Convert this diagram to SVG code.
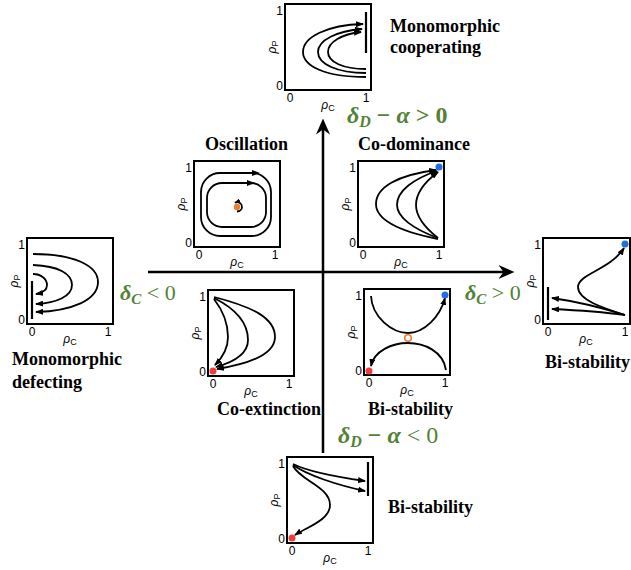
<svg xmlns="http://www.w3.org/2000/svg" width="631" height="570" viewBox="0 0 631 570">
<defs>
<style>
.box{fill:#fff;stroke:#000;stroke-width:2}
.tr{fill:none;stroke:#000;stroke-width:1.8}
.ar{marker-end:url(#ah)}
.vl{stroke:#000;stroke-width:2.2}
.tk{font-family:"Liberation Sans",Arial,sans-serif;font-size:12px;fill:#000}
.ti{font-family:"Liberation Serif","Times New Roman",serif;font-weight:bold;font-size:18px;fill:#000}
.cond{font-family:"Liberation Serif","Times New Roman",serif;font-weight:bold;font-size:22px;fill:#548235}
.big{font-size:24px}
.axis{stroke:#000;stroke-width:2.5;fill:none;marker-end:url(#big)}
.blue{fill:#1f6fe0}
.red{fill:#f03c3c}
.org{fill:#ed7d31}
</style>
<marker id="ah" viewBox="0 0 8 6" refX="7" refY="3" markerWidth="8" markerHeight="6" orient="auto" markerUnits="userSpaceOnUse"><path d="M0,0 L8,3 L0,6 Z" fill="#000"/></marker>
<marker id="ahs" viewBox="0 0 8 6" refX="7" refY="3" markerWidth="6" markerHeight="4.5" orient="auto" markerUnits="userSpaceOnUse"><path d="M0,0 L8,3 L0,6 Z" fill="#000"/></marker>
<marker id="big" viewBox="0 0 16 14" refX="5.5" refY="7" markerWidth="16" markerHeight="14" orient="auto" markerUnits="userSpaceOnUse"><path d="M0,0 L16,7 L0,14 L5,7 Z" fill="#000"/></marker>
</defs>
<rect width="631" height="570" fill="#fff"/>

<g id="connectors">
<line class="axis" x1="148" y1="272" x2="504" y2="272"/>
<line class="axis" x1="323" y1="453" x2="323" y2="129"/>
<text class="cond big" x="347" y="123"><tspan font-style="italic">δ</tspan><tspan font-style="italic" font-size="16" dy="4">D</tspan><tspan dy="-4"> − </tspan><tspan font-style="italic">α</tspan><tspan> &gt; 0</tspan></text>
<text class="cond big" x="338" y="443"><tspan font-style="italic">δ</tspan><tspan font-style="italic" font-size="16" dy="4">D</tspan><tspan dy="-4"> − </tspan><tspan font-style="italic">α</tspan><tspan font-weight="normal"> &lt; 0</tspan></text>
<text class="cond" x="120" y="300"><tspan font-style="italic">δ</tspan><tspan font-style="italic" font-size="15" dy="4">C</tspan><tspan dy="-4" font-weight="normal"> &lt; 0</tspan></text>
<text class="cond" x="465" y="300"><tspan font-style="italic">δ</tspan><tspan font-style="italic" font-size="15" dy="4">C</tspan><tspan dy="-4" font-weight="normal"> &gt; 0</tspan></text>
</g>

<g id="monomorphic-cooperating" transform="translate(285,4)">
<rect class="box" x="0" y="0" width="86" height="86"/>
<text class="tk" x="5" y="98" text-anchor="middle">0</text>
<text class="tk" x="81" y="98" text-anchor="middle">1</text>
<text class="tk" x="-2" y="11" text-anchor="end">1</text>
<text class="tk" x="-2" y="86" text-anchor="end">0</text>
<text class="tk" x="43" y="105" text-anchor="middle"><tspan font-style="italic">ρ</tspan><tspan font-size="9" dy="2">C</tspan></text>
<text class="tk" transform="translate(-9,43) rotate(-90)" text-anchor="middle"><tspan font-style="italic">ρ</tspan><tspan font-size="9" dy="2">P</tspan></text>
<line class="vl" x1="81" y1="8" x2="81" y2="49"/>
<path class="tr ar" d="M81 73 C40 73,18 62,18 48 C18 33,42 21,78 20"/>
<path class="tr ar" d="M81 69 C52 69,33 60,33 48 C33 36,52 27,77 25"/>
<path class="tr ar" d="M81 65 C58 65,43 58,43 48 C43 38,57 30,76 28"/>
<text class="ti" x="105" y="28">Monomorphic</text>
<text class="ti" x="105" y="49">cooperating</text>
</g>

<g id="oscillation" transform="translate(194,161)">
<rect class="box" x="0" y="0" width="86" height="86"/>
<text class="tk" x="5" y="98" text-anchor="middle">0</text>
<text class="tk" x="81" y="98" text-anchor="middle">1</text>
<text class="tk" x="-2" y="11" text-anchor="end">1</text>
<text class="tk" x="-2" y="86" text-anchor="end">0</text>
<text class="tk" x="43" y="105" text-anchor="middle"><tspan font-style="italic">ρ</tspan><tspan font-size="9" dy="2">C</tspan></text>
<text class="tk" transform="translate(-9,43) rotate(-90)" text-anchor="middle"><tspan font-style="italic">ρ</tspan><tspan font-size="9" dy="2">P</tspan></text>
<rect class="tr" x="7" y="12" width="70" height="63" rx="19"/>
<rect class="tr" x="13" y="22" width="59" height="44" rx="15"/>
<path d="M66 12 L58 9 L58 15 Z" fill="#000"/>
<path d="M61 22 L53 19 L53 25 Z" fill="#000"/>
<circle class="org" cx="43" cy="46" r="3.2"/>
<path class="tr" stroke-width="1.6" marker-end="url(#ahs)" d="M43 50.5 A5 4.5 0 0 0 48 46 A5 4.5 0 0 0 41 41.6"/>
<text class="ti" x="11" y="-11">Oscillation</text>
</g>

<g id="co-dominance" transform="translate(358,161)">
<rect class="box" x="0" y="0" width="86" height="86"/>
<text class="tk" x="5" y="98" text-anchor="middle">0</text>
<text class="tk" x="81" y="98" text-anchor="middle">1</text>
<text class="tk" x="-2" y="11" text-anchor="end">1</text>
<text class="tk" x="-2" y="86" text-anchor="end">0</text>
<text class="tk" x="43" y="105" text-anchor="middle"><tspan font-style="italic">ρ</tspan><tspan font-size="9" dy="2">C</tspan></text>
<text class="tk" transform="translate(-9,43) rotate(-90)" text-anchor="middle"><tspan font-style="italic">ρ</tspan><tspan font-size="9" dy="2">P</tspan></text>
<path class="tr ar" d="M80 78 C40 70,18 58,18 43 C18 26,40 14,78 9"/>
<path class="tr ar" d="M80 77 C55 68,39 56,39 44 C39 30,55 18,79 10"/>
<path class="tr ar" d="M80 77 C66 66,58 55,58 44 C58 32,68 20,80 11"/>
<circle class="blue" cx="81" cy="6" r="3.5"/>
<text class="ti" x="0" y="-11">Co-dominance</text>
</g>

<g id="monomorphic-defecting" transform="translate(27,238)">
<rect class="box" x="0" y="0" width="86" height="86"/>
<text class="tk" x="5" y="98" text-anchor="middle">0</text>
<text class="tk" x="81" y="98" text-anchor="middle">1</text>
<text class="tk" x="-2" y="11" text-anchor="end">1</text>
<text class="tk" x="-2" y="86" text-anchor="end">0</text>
<text class="tk" x="43" y="105" text-anchor="middle"><tspan font-style="italic">ρ</tspan><tspan font-size="9" dy="2">C</tspan></text>
<text class="tk" transform="translate(-9,43) rotate(-90)" text-anchor="middle"><tspan font-style="italic">ρ</tspan><tspan font-size="9" dy="2">P</tspan></text>
<line class="vl" x1="5" y1="43" x2="5" y2="81"/>
<path class="tr ar" d="M6 16 C48 16,71 28,71 44 C71 62,45 73,9 74"/>
<path class="tr ar" d="M6 27 C32 28,45 36,45 47 C45 58,30 65,9 66"/>
<path class="tr ar" d="M6 36 C14 36,20 41,20 47 C20 52,15 55,9 56"/>
<text class="ti" x="-15" y="127">Monomorphic</text>
<text class="ti" x="-15" y="150">defecting</text>
</g>

<g id="bi-stability-right" transform="translate(543,238)">
<rect class="box" x="0" y="0" width="87" height="86"/>
<text class="tk" x="5" y="98" text-anchor="middle">0</text>
<text class="tk" x="82" y="98" text-anchor="middle">1</text>
<text class="tk" x="-2" y="11" text-anchor="end">1</text>
<text class="tk" x="-2" y="86" text-anchor="end">0</text>
<text class="tk" x="43" y="105" text-anchor="middle"><tspan font-style="italic">ρ</tspan><tspan font-size="9" dy="2">C</tspan></text>
<text class="tk" transform="translate(-9,43) rotate(-90)" text-anchor="middle"><tspan font-style="italic">ρ</tspan><tspan font-size="9" dy="2">P</tspan></text>
<line class="vl" x1="5" y1="49" x2="5" y2="82"/>
<path class="tr ar" d="M82 77 C60 70,35 62,35 49 C35 36,67 32,81 10"/>
<path class="tr ar" d="M82 77 C60 70,30 63,9 60"/>
<path class="tr ar" d="M82 77 C60 74,30 72,9 71"/>
<circle class="blue" cx="82" cy="6" r="3.5"/>
<text class="ti" x="2" y="130">Bi-stability</text>
</g>

<g id="co-extinction" transform="translate(208,290)">
<rect class="box" x="0" y="0" width="86" height="86"/>
<text class="tk" x="5" y="98" text-anchor="middle">0</text>
<text class="tk" x="81" y="98" text-anchor="middle">1</text>
<text class="tk" x="-2" y="11" text-anchor="end">1</text>
<text class="tk" x="-2" y="86" text-anchor="end">0</text>
<text class="tk" x="43" y="105" text-anchor="middle"><tspan font-style="italic">ρ</tspan><tspan font-size="9" dy="2">C</tspan></text>
<text class="tk" transform="translate(-9,43) rotate(-90)" text-anchor="middle"><tspan font-style="italic">ρ</tspan><tspan font-size="9" dy="2">P</tspan></text>
<path class="tr ar" d="M6 7 C45 17,67 28,67 47 C67 65,40 74,9 79"/>
<path class="tr ar" d="M6 8 C30 20,40 35,40 50 C40 64,26 72,8 77"/>
<path class="tr ar" d="M6 9 C16 22,20 35,20 47 C20 60,14 68,7 75"/>
<circle class="red" cx="5" cy="81" r="3.5"/>
<text class="ti" x="9" y="125">Co-extinction</text>
</g>

<g id="bi-stability-center" transform="translate(364,289)">
<rect class="box" x="0" y="0" width="86" height="86"/>
<text class="tk" x="5" y="98" text-anchor="middle">0</text>
<text class="tk" x="81" y="98" text-anchor="middle">1</text>
<text class="tk" x="-2" y="11" text-anchor="end">1</text>
<text class="tk" x="-2" y="86" text-anchor="end">0</text>
<text class="tk" x="43" y="105" text-anchor="middle"><tspan font-style="italic">ρ</tspan><tspan font-size="9" dy="2">C</tspan></text>
<text class="tk" transform="translate(-9,43) rotate(-90)" text-anchor="middle"><tspan font-style="italic">ρ</tspan><tspan font-size="9" dy="2">P</tspan></text>
<path class="tr ar" d="M7 7 C8 28,28 44,44 44 C60 44,76 28,81 9"/>
<path class="tr ar" d="M82 81 C79 62,60 54,44 54 C28 54,10 62,7 77"/>
<circle cx="44" cy="49" r="3.3" fill="#fff" stroke="#ed7d31" stroke-width="1.6"/>
<circle class="blue" cx="81" cy="6" r="3.5"/>
<circle class="red" cx="5" cy="82" r="3.5"/>
<text class="ti" x="4" y="126">Bi-stability</text>
</g>

<g id="bi-stability-bottom" transform="translate(287,457)">
<rect class="box" x="0" y="0" width="86" height="86"/>
<text class="tk" x="5" y="98" text-anchor="middle">0</text>
<text class="tk" x="81" y="98" text-anchor="middle">1</text>
<text class="tk" x="-2" y="11" text-anchor="end">1</text>
<text class="tk" x="-2" y="86" text-anchor="end">0</text>
<text class="tk" x="43" y="105" text-anchor="middle"><tspan font-style="italic">ρ</tspan><tspan font-size="9" dy="2">C</tspan></text>
<text class="tk" transform="translate(-9,43) rotate(-90)" text-anchor="middle"><tspan font-style="italic">ρ</tspan><tspan font-size="9" dy="2">P</tspan></text>
<line class="vl" x1="81" y1="5" x2="81" y2="39"/>
<path class="tr ar" d="M6 7 C20 14,50 20,78 24"/>
<path class="tr ar" d="M6 8 C20 18,50 28,78 34"/>
<path class="tr ar" d="M6 9 C14 24,43 30,43 48 C43 63,20 70,8 78"/>
<circle class="red" cx="5" cy="81" r="3.5"/>
<text class="ti" x="101" y="56">Bi-stability</text>
</g>
</svg>
